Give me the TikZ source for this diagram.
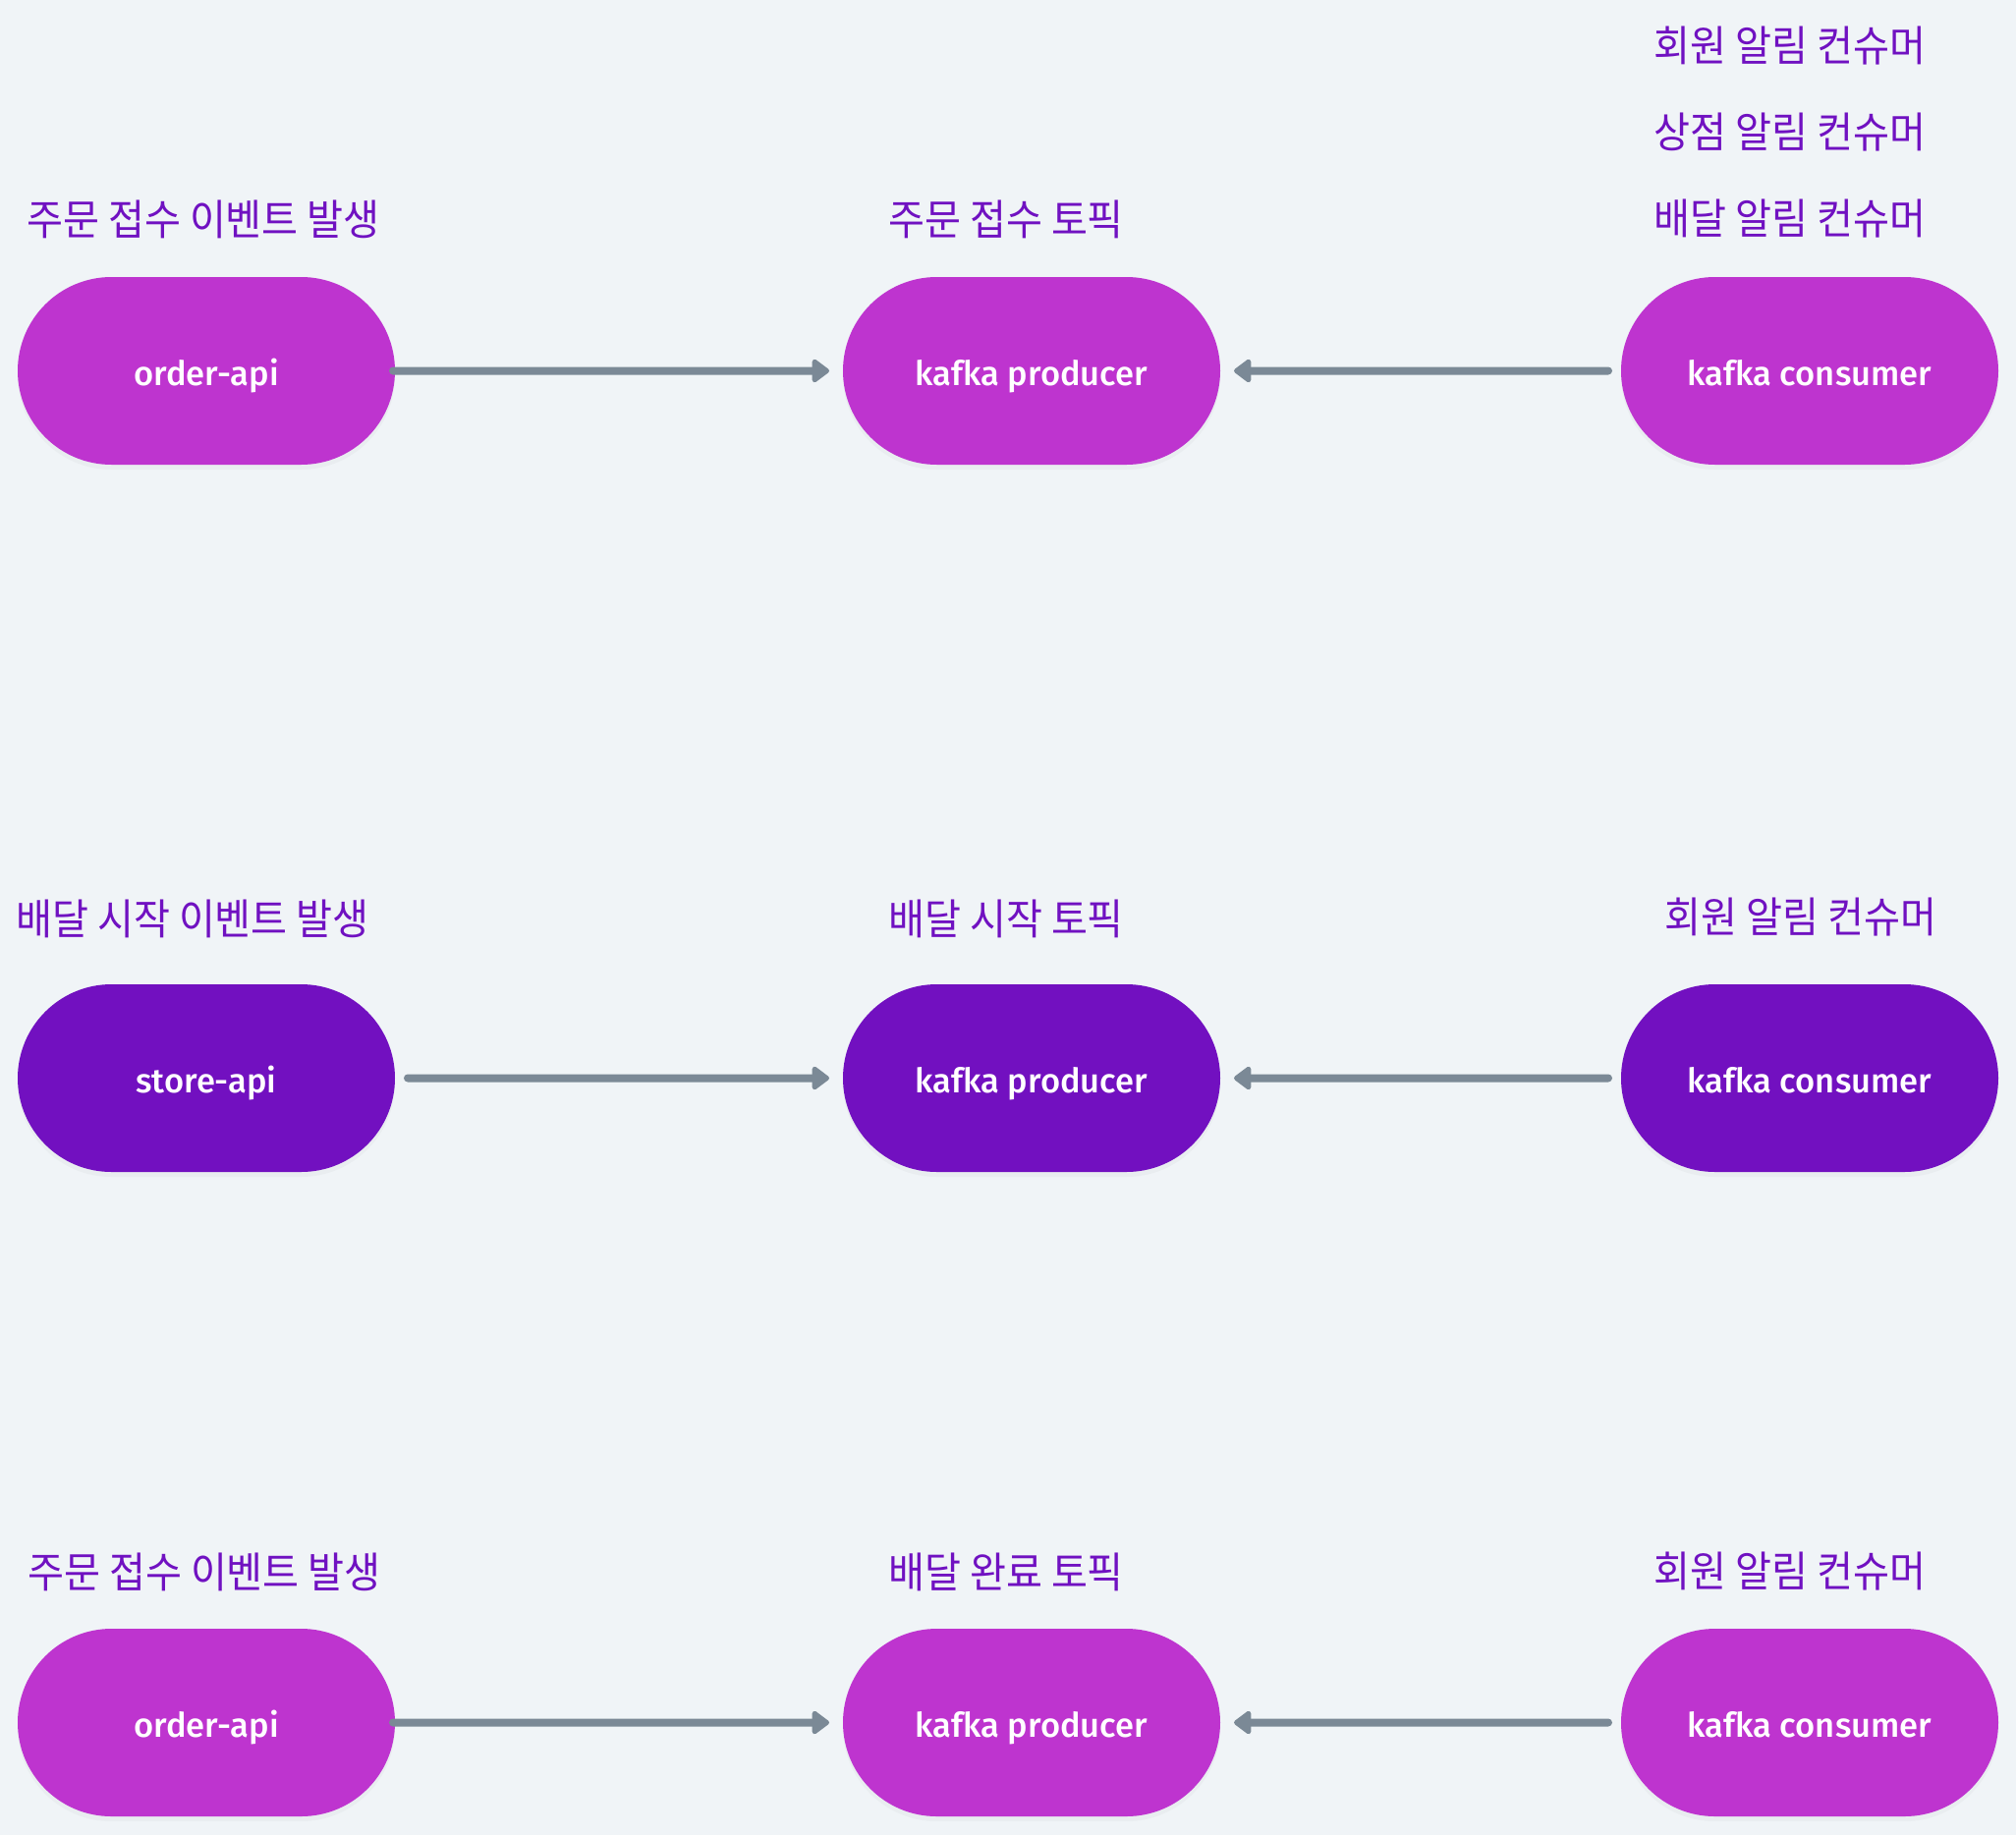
\documentclass[tikz,border=0pt]{standalone}
\usepackage{fontspec}
\usetikzlibrary{arrows.meta,shapes.misc,shadows}
\newfontfamily\krfont{Noto Sans CJK KR}[FakeStretch=0.935]
\newfontfamily\nodefont{Fira Sans Medium}
\definecolor{bgc}{HTML}{F0F4F7}
\definecolor{magentafill}{HTML}{BE34CF}
\definecolor{purplefill}{HTML}{7210C0}
\definecolor{labelc}{HTML}{7011C1}
\definecolor{arrc}{HTML}{7B8996}
\tikzset{
  pill/.style={rounded rectangle, minimum width=384pt, minimum height=191pt,
    inner sep=0pt, outer sep=0pt, draw=none, text=white,
    font=\nodefont\fontsize{34.5pt}{40pt}\selectfont, text height=29pt, text depth=0pt,
    drop shadow={opacity=0.06, shadow xshift=0pt, shadow yshift=-5pt}},
  pinkpill/.style={pill, fill=magentafill},
  violetpill/.style={pill, fill=purplefill},
  krlabel/.style={inner sep=0pt, text=labelc, font=\krfont\fontsize{43pt}{50pt}\selectfont},
  conn/.style={draw=arrc, line width=8pt, line cap=round,
    -{Triangle[length=19pt,width=27pt,round]}},
}
\begin{document}
\begin{tikzpicture}[x=1pt,y=-1pt]
\useasboundingbox (0,0) rectangle (2052,1868);
\fill[bgc] (0,0) rectangle (2052,1868);

% Row 1
\node[pinkpill] (a1) at (210,377.5) {order-api};
\node[pinkpill] (b1) at (1050,377.5) {kafka producer};
\node[pinkpill] (c1) at (1842,377.5) {kafka consumer};
\node[krlabel] (la1) at (207,223) {주문 접수 이벤트 발생};
\node[krlabel] (lb1) at (1024,223) {주문 접수 토픽};
\node[krlabel] (lc1a) at (1822,47) {회원 알림 컨슈머};
\node[krlabel] (lc1b) at (1822,135) {상점 알림 컨슈머};
\node[krlabel] (lc1c) at (1822,223) {배달 알림 컨슈머};
\draw[conn, shorten <=-2pt, shorten >=14pt] (a1) -- (b1);
\draw[conn, shorten <=13pt, shorten >=14pt] (c1) -- (b1);

% Row 2
\node[violetpill] (a2) at (210,1097.5) {store-api};
\node[violetpill] (b2) at (1050,1097.5) {kafka producer};
\node[violetpill] (c2) at (1842,1097.5) {kafka consumer};
\node[krlabel] (la2) at (196,935) {배달 시작 이벤트 발생};
\node[krlabel] (lb2) at (1024,935) {배달 시작 토픽};
\node[krlabel] (lc2) at (1833,934) {회원 알림 컨슈머};
\draw[conn, shorten <=13pt, shorten >=14pt] (a2) -- (b2);
\draw[conn, shorten <=13pt, shorten >=14pt] (c2) -- (b2);

% Row 3
\node[pinkpill] (a3) at (210,1753.5) {order-api};
\node[pinkpill] (b3) at (1050,1753.5) {kafka producer};
\node[pinkpill] (c3) at (1842,1753.5) {kafka consumer};
\node[krlabel] (la3) at (208,1600) {주문 접수 이벤트 발생};
\node[krlabel] (lb3) at (1024,1600) {배달 완료 토픽};
\node[krlabel] (lc3) at (1822,1600) {회원 알림 컨슈머};
\draw[conn, shorten <=-2pt, shorten >=14pt] (a3) -- (b3);
\draw[conn, shorten <=13pt, shorten >=14pt] (c3) -- (b3);
\end{tikzpicture}
\end{document}
